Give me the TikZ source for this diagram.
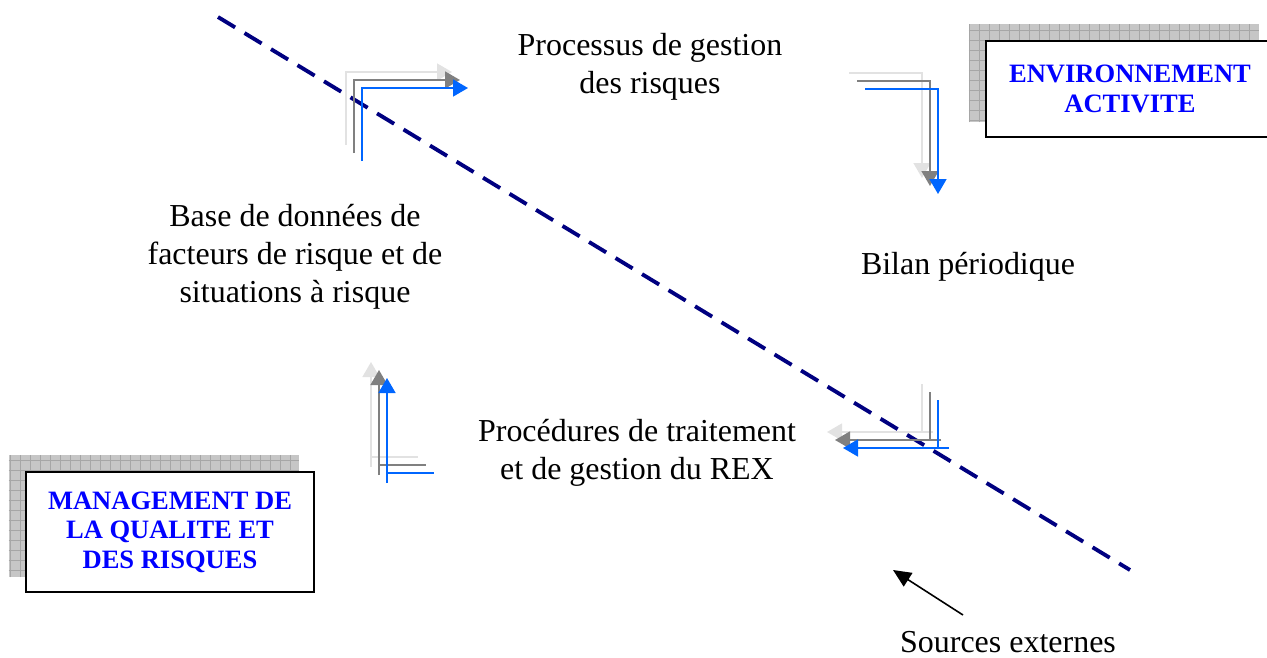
\documentclass[tikz,border=0pt]{standalone}
\usepackage{fontspec}
\setmainfont{Liberation Serif}
\usetikzlibrary{arrows.meta,backgrounds,calc}

\definecolor{dashnavy}{HTML}{000080}
\definecolor{titleblue}{HTML}{0000FF}
\definecolor{arrowblue}{HTML}{0066FF}
\definecolor{arrowgray}{HTML}{808080}
\definecolor{arrowlight}{HTML}{E2E2E2}

\begin{document}
\begin{tikzpicture}[x=0.02cm,y=-0.02cm,
    every node/.style={font=\fontsize{18.2}{21.5}\selectfont, align=center},
    titlebox/.style={draw, line width=1.5pt, fill=white, inner sep=0pt,
      minimum width=5.76cm, text=titleblue,
      font=\fontsize{15.1}{16.8}\selectfont\bfseries},
    elbow/.style={line width=0.9pt, -{Triangle[length=0.3cm,width=0.34cm]}},
    riskline/.style={dashnavy, line width=2.2pt, dash pattern=on 0.4cm off 0.22cm}]
        \useasboundingbox (0,0) rectangle (1267,657);

        % limite interne / externe
        \draw[riskline] (218,17) -- (1130,570);

        % boites de titre
        \node[titlebox, minimum height=1.92cm] (envbox) at (1130,89) {ENVIRONNEMENT\\ACTIVITE};
        \node[titlebox, minimum height=2.4cm] (mgtbox) at (170,532) {MANAGEMENT DE\\LA QUALITE ET\\DES RISQUES};
        \begin{scope}[on background layer]
          \foreach \b in {envbox, mgtbox} {
            \fill[gray!45] ($(\b.north west)+(-16,-16)$) rectangle ($(\b.south east)+(-16,-16)$);
            \draw[gray!70, step=0.2cm] ($(\b.north west)+(-16,-16)$) grid ($(\b.south east)+(-16,-16)$);
          }
        \end{scope}

        % etapes du cycle
        \node (proc) at (650,67) {Processus de gestion\\des risques};
        \node (bilan) at (968,267) {Bilan périodique};
        \node (treat) at (637,453) {Procédures de traitement\\et de gestion du REX};
        \node (base) at (295,257) {Base de données de\\facteurs de risque et de\\situations à risque};
        \node[inner sep=0.5pt] (sources) at (1008,642) {Sources externes};

        % fleches coudees en trois teintes
        \foreach \c/\o in {arrowlight/0, arrowgray/8, arrowblue/16} {
          \draw[elbow, \c] (346+\o,145+\o) -- (346+\o,72+\o) -- (452+\o,72+\o);
          \draw[elbow, \c] (849+\o,73+\o) -- (922+\o,73+\o) -- (922+\o,178+\o);
          \draw[\c, line width=0.9pt] (922+\o,384+\o) -- (922+\o,432+\o);
          \draw[elbow, \c] (933+\o,432+\o) -- (827+\o,432+\o);
          \draw[\c, line width=0.9pt] (371+\o,457+\o) -- (418+\o,457+\o);
          \draw[elbow, \c] (371+\o,467+\o) -- (371+\o,362+\o);
        }

        \coordinate (srcfoot) at (963,615);
        \coordinate (srctip) at (893,570);
        \draw[line width=0.9pt, -{Triangle[length=0.36cm,width=0.32cm]}] (srcfoot) -- (srctip);
\end{tikzpicture}
\end{document}
